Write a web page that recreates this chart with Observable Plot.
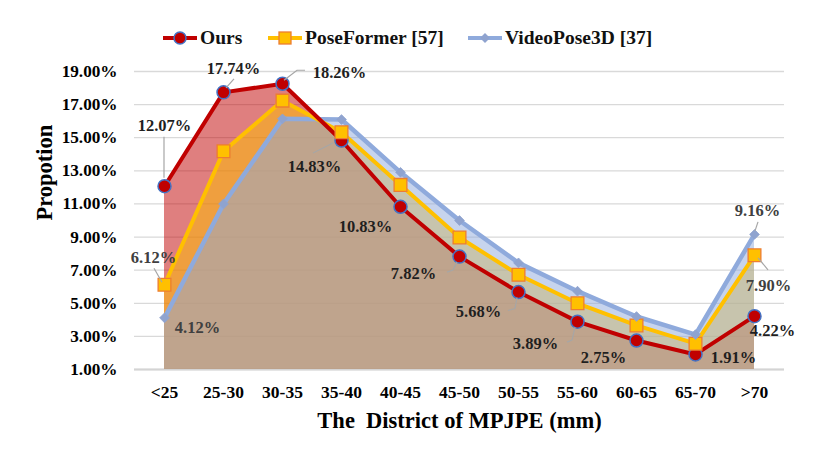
<!DOCTYPE html>
<html>
<head>
<meta charset="utf-8">
<script src="https://cdn.jsdelivr.net/npm/d3@7"></script>
<script src="https://cdn.jsdelivr.net/npm/@observablehq/plot@0.6"></script>
<style>
  body { margin: 0; background: #fff; font-family: "Liberation Serif", "Times New Roman", serif; }
  #wrap { position: relative; width: 831px; height: 462px; overflow: hidden; }
  #legend { position: relative; width: 831px; height: 55px; }
  .item { position: absolute; top: 26px; height: 24px; display: flex; align-items: center;
          font-weight: bold; font-size: 19.5px; color: #111; white-space: nowrap; }
  .item svg { display: block; margin-right: 3px; }
  #chart svg text { white-space: pre; }
</style>
</head>
<body>
<div id="wrap">
  <div id="legend"></div>
  <div id="chart"></div>
</div>
<script>
// ---------- data ----------
const categories = ["<25", "25-30", "30-35", "35-40", "40-45", "45-50", "50-55", "55-60", "60-65", "65-70", ">70"];
const ours       = [12.07, 17.74, 18.26, 14.83, 10.83, 7.82, 5.68, 3.89, 2.75, 1.91, 4.22];
const poseFormer = [6.12, 14.18, 17.24, 15.33, 12.15, 8.97, 6.72, 5.00, 3.66, 2.56, 7.90];
const videoPose  = [4.12, 11.00, 16.14, 16.10, 12.91, 10.00, 7.44, 5.73, 4.20, 3.11, 9.16];
const seriesNames = ["Ours", "PoseFormer [57]", "VideoPose3D [37]"];
const yTicks = [1, 3, 5, 7, 9, 11, 13, 15, 17, 19];
const xTitle = "The  District of MPJPE (mm)";
const yTitle = "Propotion";

// which points carry a value label (series index, category index)
const labelled = [
  [0, 0], [0, 1], [0, 2], [0, 3], [0, 4], [0, 5], [0, 6], [0, 7], [0, 8], [0, 9], [0, 10],
  [1, 0], [1, 10],
  [2, 0], [2, 10]
];

// ---------- styling / placement (not data) ----------
const seriesValues = [ours, poseFormer, videoPose];
const lineColors = ["#c00000", "#ffc000", "#8faadc"];
const labelColors = ["#1f1f1f", "#404040", "#404040"];
const labelOffsets = [
  [0, -61], [10, -24], [57, -11], [-27, 26], [-35, 20], [-46, 17], [-40, 20], [-42, 22], [-33, 17], [38, 3], [18, 15],
  [-11, -27], [14, 30],
  [33, 10], [3, -24]
];
const leaders = [
  {s: 0, i: 0, path: [[0, -8], [0, -49]]},
  {s: 0, i: 1, path: [[3, -4], [11, -13]]},
  {s: 0, i: 2, path: [[2, -3], [15, -13], [23, -13]]},
  {s: 0, i: 3, path: [[-28, 13], [-8, 3]]},
  {s: 0, i: 5, path: [[-12, 16], [-6, 14], [-2, 6]]},
  {s: 0, i: 6, path: [[-10, 19], [-3, 17], [-1, 6]]},
  {s: 0, i: 7, path: [[-10, 21], [-5, 19], [-2, 6]]},
  {s: 1, i: 0, path: [[-10, -16], [-2, -2]]},
  {s: 1, i: 10, path: [[4, 3], [14, 15]]},
  {s: 2, i: 10, path: [[4, -12], [1, -3]]}
];

const FONT = "Liberation Serif, Times New Roman, serif";
const rows = (vals) => categories.map((c, i) => ({cat: c, v: vals[i]}));
const fmt = (v) => v.toFixed(2) + "%";

// ---------- legend ----------
const legendPos = [163, 268, 468];
const legend = d3.select("#legend");
seriesNames.forEach((name, k) => {
  const item = legend.append("div").attr("class", "item").style("left", legendPos[k] + "px");
  const sw = item.append("svg").attr("width", 34).attr("height", 16);
  sw.append("line").attr("x1", 0).attr("x2", 34).attr("y1", 8).attr("y2", 8)
    .attr("stroke", lineColors[k]).attr("stroke-width", 4);
  if (k === 0) sw.append("circle").attr("cx", 17).attr("cy", 8).attr("r", 6)
    .attr("fill", "#c00000").attr("stroke", "#4472c4").attr("stroke-width", 1.5);
  if (k === 1) sw.append("rect").attr("x", 11).attr("y", 2).attr("width", 12).attr("height", 12)
    .attr("fill", "#ffc000").attr("stroke", "#ed7d31").attr("stroke-width", 1.3);
  if (k === 2) sw.append("path").attr("d", "M17,3L22,8L17,13L12,8Z").attr("fill", "#8fa3cf");
  item.append("span").text(name);
});

// ---------- chart ----------
const marks = [
  Plot.gridY(yTicks, {stroke: "#d9d9d9", strokeOpacity: 1, strokeWidth: 1.3}),
  Plot.ruleY([1], {stroke: "#d4d4d4", strokeWidth: 2}),
  Plot.areaY(rows(ours), {x: "cat", y1: 1, y2: "v", fill: "#c00000", fillOpacity: 0.5}),
  Plot.areaY(rows(poseFormer), {x: "cat", y1: 1, y2: "v", fill: "#ffc000", fillOpacity: 0.5}),
  Plot.areaY(rows(videoPose), {x: "cat", y1: 1, y2: "v", fill: "#8faadc", fillOpacity: 0.5}),
  Plot.line(rows(videoPose), {x: "cat", y: "v", stroke: "#8faadc", strokeWidth: 4.5, strokeLinejoin: "round"}),
  Plot.line(rows(poseFormer), {x: "cat", y: "v", stroke: "#ffc000", strokeWidth: 4, strokeLinejoin: "round"}),
  Plot.line(rows(ours), {x: "cat", y: "v", stroke: "#c00000", strokeWidth: 4, strokeLinejoin: "round"}),
  Plot.dot(rows(ours), {x: "cat", y: "v", r: 6.5, fill: "#c00000", stroke: "#4472c4", strokeWidth: 1.5}),
  Plot.dot(rows(poseFormer), {x: "cat", y: "v", symbol: "square", r: 7.2, fill: "#ffc000", stroke: "#ed7d31", strokeWidth: 1.3}),
  Plot.dot(rows(videoPose), {x: "cat", y: "v", symbol: "diamond2", r: 4.4, fill: "#8fa3cf", stroke: "#8fa3cf", strokeWidth: 0.8}),
  (index, scales) => {
    const g = d3.create("svg:g").attr("fill", "none").attr("stroke", "#a6a6a6").attr("stroke-width", 1.2);
    for (const L of leaders) {
      const px = scales.x(categories[L.i]);
      const py = scales.y(seriesValues[L.s][L.i]);
      g.append("path").attr("d", d3.line()(L.path.map(([dx, dy]) => [px + dx, py + dy])));
    }
    return g.node();
  },
  Plot.axisX({tickSize: 0, tickPadding: 16, fontSize: 17.5, fontWeight: "bold", label: null, fill: "#000"}),
  Plot.axisY({ticks: yTicks, tickFormat: fmt, tickSize: 0, tickPadding: 17, fontSize: 17.2, fontWeight: "bold", label: null, fill: "#000"}),
  Plot.text([xTitle], {text: d => d, frameAnchor: "bottom", dy: 51, fontSize: 22.5, fontWeight: "bold", lineAnchor: "middle", fill: "#000"}),
  Plot.text([yTitle], {text: d => d, frameAnchor: "left", dx: -90, rotate: -90, fontSize: 22.5, fontWeight: "bold", lineAnchor: "middle", fill: "#000"})
];

labelled.forEach(([s, i], k) => {
  const [dx, dy] = labelOffsets[k];
  marks.push(Plot.text([{cat: categories[i], v: seriesValues[s][i]}], {
    x: "cat", y: "v", text: d => fmt(d.v), dx, dy,
    fill: labelColors[s], fontSize: 16.5, fontWeight: "bold", textAnchor: "middle", lineAnchor: "middle"
  }));
});

const chart = Plot.plot({
  width: 831,
  height: 407,
  marginLeft: 134,
  marginRight: 47,
  marginTop: 16,
  marginBottom: 93,
  style: {fontFamily: FONT, background: "#fff", color: "#000", overflow: "visible"},
  x: {type: "point", domain: categories, padding: 0.5},
  y: {domain: [1, 19]},
  marks
});
document.getElementById("chart").appendChild(chart);
</script>
</body>
</html>
